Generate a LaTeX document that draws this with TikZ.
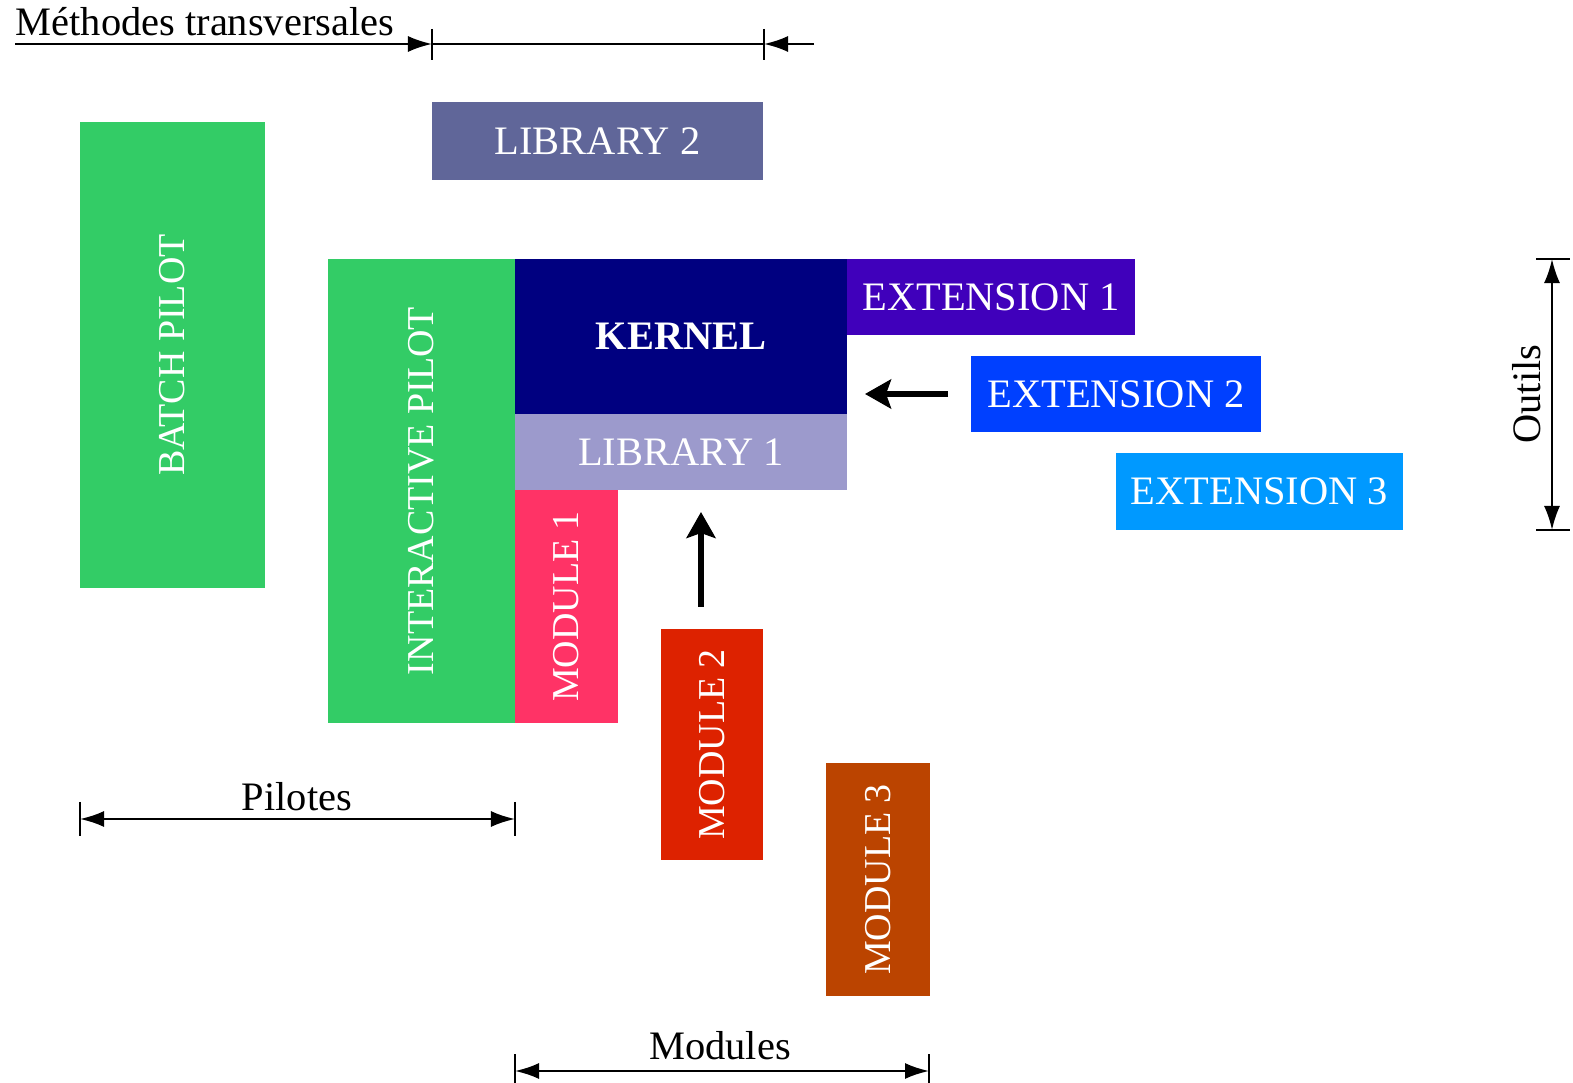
\documentclass[tikz,border=0pt]{standalone}
\usepackage{fontspec}
\setmainfont{Liberation Serif}
\usetikzlibrary{arrows.meta,calc}
\definecolor{pilotc}{HTML}{33CC66}
\definecolor{kernelc}{HTML}{000080}
\definecolor{libac}{HTML}{9C9ACC}
\definecolor{libbc}{HTML}{606699}
\definecolor{extac}{HTML}{4000BB}
\definecolor{extbc}{HTML}{0040FF}
\definecolor{extcc}{HTML}{0099FF}
\definecolor{modac}{HTML}{FF3366}
\definecolor{modbc}{HTML}{DD2200}
\definecolor{modcc}{HTML}{BB4400}

\begin{document}
\begin{tikzpicture}[x=0.01cm,y=-0.01cm,
    blk/.style={inner sep=0pt,text=white,font=\fontsize{11.5}{13}\selectfont},
    vblk/.style={blk,rotate=90,font=\fontsize{10.8}{13}\selectfont},
    lbl/.style={inner sep=0pt,font=\fontsize{11.5}{13}\selectfont},
    dim/.style={line width=0.6pt},
    >={Latex[length=2.4mm,width=1.6mm]},
    bigarrow/.style={line width=1.5pt,-{Stealth[length=2.6mm,width=2.9mm,inset=0.5mm]}}]
  \useasboundingbox (0,0) rectangle (1573,1083);

  \node[blk,fill=libbc,minimum width=3.31cm,minimum height=0.78cm] (lib2) at (597.5,141) {LIBRARY 2};
  \node[vblk,fill=pilotc,minimum width=4.66cm,minimum height=1.85cm] (batch) at (172.5,355) {BATCH PILOT};
  \node[vblk,fill=pilotc,minimum width=4.64cm,minimum height=1.87cm] (inter) at (421.5,491) {INTERACTIVE PILOT};
  \node[blk,fill=kernelc,minimum width=3.32cm,minimum height=1.55cm,font=\fontsize{11.5}{13}\selectfont\bfseries] (kernel) at (681,336.5) {KERNEL};
  \node[blk,fill=libac,minimum width=3.32cm,minimum height=0.76cm] (lib1) at (681,452) {LIBRARY 1};
  \node[blk,fill=extac,minimum width=2.88cm,minimum height=0.76cm] (ext1) at (991,297) {EXTENSION 1};
  \node[blk,fill=extbc,minimum width=2.90cm,minimum height=0.76cm] (ext2) at (1116,394) {EXTENSION 2};
  \node[blk,fill=extcc,minimum width=2.87cm,minimum height=0.77cm] (ext3) at (1259.5,491.5) {EXTENSION 3};
  \node[vblk,fill=modac,minimum width=2.33cm,minimum height=1.03cm] (mod1) at (566.5,606.5) {MODULE 1};
  \node[vblk,fill=modbc,minimum width=2.31cm,minimum height=1.02cm] (mod2) at (712,744.5) {MODULE 2};
  \node[vblk,fill=modcc,minimum width=2.33cm,minimum height=1.04cm] (mod3) at (878,879.5) {MODULE 3};

  \coordinate (ea) at (948,394);
  \coordinate (eb) at (865,394);
  \coordinate (ma) at (701,607);
  \coordinate (mb) at (701,512);
  \draw[bigarrow] (ea) -- (eb);
  \draw[bigarrow] (ma) -- (mb);

  % cotes
  \coordinate (t0) at (15,44);
  \coordinate (t1) at (432,44);
  \coordinate (t2) at (764,44);
  \coordinate (t3) at (814,44);
  \node[lbl,anchor=base west] (meth) at (15,36) {Méthodes transversales};
  \draw[dim,->] (t0) -- (t1);
  \draw[dim] (t1) -- (t2);
  \draw[dim,->] (t3) -- (t2);
  \foreach \c in {t1,t2}
    \draw[dim] ($(\c)+(0,-15)$) -- ($(\c)+(0,16)$);

  \coordinate (p0) at (80,819);
  \coordinate (p1) at (515,819);
  \node[lbl] (pil) at (297,797) {Pilotes};
  \draw[dim,<->] (p0) -- (p1);
  \foreach \c in {p0,p1}
    \draw[dim] ($(\c)+(0,-17)$) -- ($(\c)+(0,17)$);

  \coordinate (q0) at (515,1071);
  \coordinate (q1) at (929,1071);
  \node[lbl] (mods) at (720,1046) {Modules};
  \draw[dim,<->] (q0) -- (q1);
  \foreach \c in {q0,q1}
    \draw[dim] ($(\c)+(0,-17)$) -- ($(\c)+(0,14)$);

  \coordinate (o0) at (1552,259);
  \coordinate (o1) at (1552,530);
  \node[lbl,rotate=90] (outils) at (1527,394) {Outils};
  \draw[dim,<->] (o0) -- (o1);
  \foreach \c in {o0,o1}
    \draw[dim] ($(\c)+(-16,0)$) -- ($(\c)+(18,0)$);
\end{tikzpicture}
\end{document}
